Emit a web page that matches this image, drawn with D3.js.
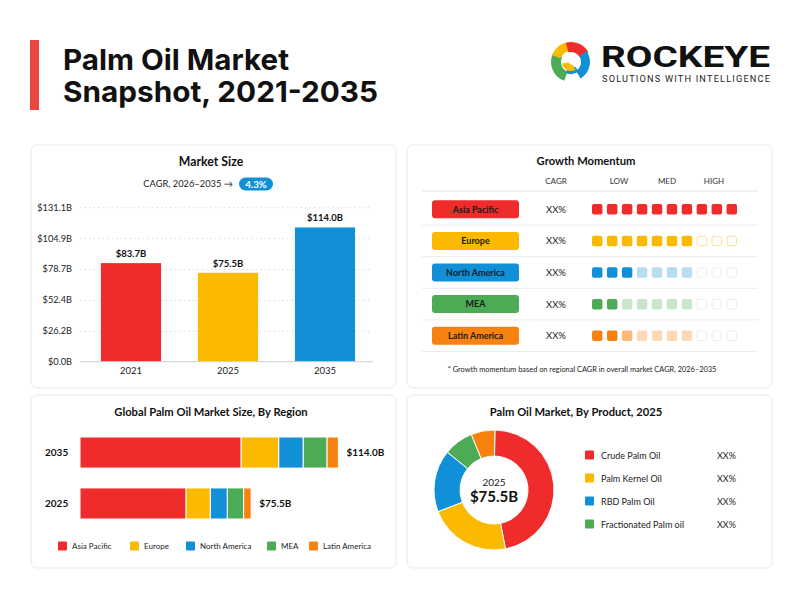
<!DOCTYPE html>
<html>
<head>
<meta charset="utf-8">
<script src="https://cdn.jsdelivr.net/npm/d3@7"></script>
<style>
  body { margin: 0; background: #fff; }
  svg { display: block; font-family: Lato, "Open Sans", sans-serif; }
</style>
</head>
<body>
<div id="app"></div>
<script>
// market size
const years = ['2021', '2025', '2035'];
const marketSize = [83.7, 75.5, 114.0];
const sizeTicks = [0, 26.2, 52.4, 78.7, 104.9, 131.1];
const cagrText = '4.3%';

// growth momentum
const regions = ['Asia Pacific', 'Europe', 'North America', 'MEA', 'Latin America'];
const regionCagr = ['XX%', 'XX%', 'XX%', 'XX%', 'XX%'];
const momentumSolid = [10, 7, 3, 2, 2];
const momentumMid = [0, 0, 0, 0, 1];
const momentumSoft = [0, 0, 4, 5, 4];
const momentumHeads = ['CAGR', 'LOW', 'MED', 'HIGH'];

// by region
const regionYears = ['2035', '2025'];
const regionTotals = [114.0, 75.5];
const region2035 = [71.1, 16.6, 10.8, 10.5, 5.0];
const region2025 = [46.8, 10.7, 7.5, 7.2, 3.3];

// by product
const products = ['Crude Palm Oil', 'Palm Kernel Oil', 'RBD Palm Oil', 'Fractionated Palm oil', 'Others'];
const productShares = [46.7, 22.2, 16.7, 8.0, 6.4];
const productLabels = ['XX%', 'XX%', 'XX%', 'XX%'];

const colors = ['#ef2b2b', '#fbb900', '#1190d8', '#4cab54', '#f8820f'];

const W = 802, H = 610;
const svg = d3.select('#app').append('svg')
  .attr('width', W)
  .attr('height', H);

// header
svg.append('rect').attr('x', 30).attr('y', 40).attr('width', 9).attr('height', 70).attr('fill', '#e8473f');
const title = svg.append('text')
  .attr('font-family', 'Inter, Roboto, sans-serif')
  .attr('font-weight', 700)
  .attr('font-size', 29)
  .attr('fill', '#111')
  .attr('lengthAdjust', 'spacingAndGlyphs');
title.append('tspan').attr('x', 63).attr('y', 69.5).attr('textLength', 226).attr('lengthAdjust', 'spacingAndGlyphs').text('Palm Oil Market');
title.append('tspan').attr('x', 63).attr('y', 101.7).attr('textLength', 315).attr('lengthAdjust', 'spacingAndGlyphs').text('Snapshot, 2021-2035');

// logo
const logo = svg.append('g').attr('transform', 'translate(571,62)');
const swirl = [
  { c: '#4cab54', a0: 200, a1: 300, r0: 10, r1: 20 },
  { c: '#fbb900', a0: 290, a1: 350, r0: 11, r1: 20 },
  { c: '#ef2b2b', a0: 345, a1: 60, r0: 10, r1: 20 },
  { c: '#1190d8', a0: 55, a1: 150, r0: 10, r1: 19 },
  { c: '#1190d8', a0: 140, a1: 205, r0: 6, r1: 12 },
  { c: '#fbb900', a0: 150, a1: 260, r0: 0, r1: 9 }
];
swirl.forEach(s => {
  const a1 = s.a1 < s.a0 ? s.a1 + 360 : s.a1;
  logo.append('path')
    .attr('d', d3.arc()({ innerRadius: s.r0, outerRadius: s.r1, startAngle: s.a0 * Math.PI / 180, endAngle: a1 * Math.PI / 180 }))
    .attr('fill', s.c);
});
logo.append('circle').attr('r', 5).attr('cx', 2).attr('cy', -2).attr('fill', '#fff');
svg.append('text')
  .attr('x', 601).attr('y', 67.3)
  .attr('font-family', 'Roboto, sans-serif')
  .attr('font-weight', 700)
  .attr('font-size', 30)
  .attr('textLength', 169)
  .attr('lengthAdjust', 'spacingAndGlyphs')
  .attr('fill', '#111')
  .text('ROCKEYE');
svg.append('text')
  .attr('x', 602).attr('y', 82.3)
  .attr('font-family', 'Roboto, sans-serif')
  .attr('font-size', 9.2)
  .attr('textLength', 168)
  .attr('fill', '#222')
  .text('SOLUTIONS WITH INTELLIGENCE');

// panels
const panels = [[31, 145, 365, 243], [407, 145, 365, 243], [31, 395, 365, 173], [407, 395, 365, 173]];
svg.selectAll('rect.panel')
  .data(panels)
  .enter()
  .append('rect')
  .attr('class', 'panel')
  .attr('x', d => d[0]).attr('y', d => d[1])
  .attr('width', d => d[2]).attr('height', d => d[3])
  .attr('rx', 6)
  .attr('fill', '#fff')
  .attr('stroke', '#e9e9e9');

function panelTitle(x, y, txt, size) {
  svg.append('text')
    .attr('x', x).attr('y', y)
    .attr('text-anchor', 'middle')
    .attr('font-weight', 700)
    .attr('font-size', size)
    .attr('fill', '#111')
    .text(txt);
}

// ---- market size ----
panelTitle(211, 166, 'Market Size', 12.3);
svg.append('text')
  .attr('x', 233).attr('y', 187)
  .attr('text-anchor', 'end')
  .attr('font-size', 9.3)
  .attr('fill', '#222')
  .text('CAGR, 2026–2035 →');
svg.append('rect').attr('x', 239).attr('y', 177.5).attr('width', 34).attr('height', 13).attr('rx', 6.5).attr('fill', '#1190d8');
svg.append('text')
  .attr('x', 256).attr('y', 187.5)
  .attr('text-anchor', 'middle')
  .attr('font-size', 9.8)
  .attr('font-weight', 700)
  .attr('fill', '#fff')
  .text(cagrText);

const xs = d3.scaleBand().domain(years).range([82.5, 373.5]).paddingInner(0.38).paddingOuter(0.19);
const ys = d3.scaleLinear().domain([0, 131.1]).range([361.7, 207.3]);

const grid = svg.append('g')
  .attr('transform', 'translate(80,0)')
  .call(d3.axisLeft(ys).tickValues(sizeTicks.slice(1)).tickSize(-292).tickFormat(''));
grid.select('.domain').remove();
grid.selectAll('line').attr('stroke', '#d9d9d9').attr('stroke-dasharray', '1.5,3');

const yAxis = svg.append('g')
  .attr('transform', 'translate(72,0)')
  .call(d3.axisLeft(ys).tickValues(sizeTicks).tickSize(0).tickPadding(0).tickFormat(d => '$' + d.toFixed(1) + 'B'));
yAxis.select('.domain').remove();
yAxis.selectAll('text').attr('font-family', 'Lato, sans-serif').attr('font-size', 9.2).attr('fill', '#222');

svg.append('g')
  .selectAll('rect')
  .data(marketSize)
  .enter()
  .append('rect')
  .attr('x', (d, i) => xs(years[i]))
  .attr('y', d => ys(d))
  .attr('width', xs.bandwidth())
  .attr('height', d => ys(0) - ys(d))
  .attr('fill', (d, i) => colors[i]);

const xAxis = svg.append('g')
  .attr('transform', `translate(0,${ys(0)})`)
  .call(d3.axisBottom(xs).tickSize(0).tickPadding(6));
xAxis.select('.domain').attr('stroke', '#d0d0d0').attr('d', 'M80,0H373');
xAxis.selectAll('text').attr('font-family', 'Lato, sans-serif').attr('font-size', 9.5).attr('fill', '#222');

svg.append('g')
  .selectAll('text')
  .data(marketSize)
  .enter()
  .append('text')
  .attr('x', (d, i) => xs(years[i]) + xs.bandwidth() / 2)
  .attr('y', d => ys(d) - 6)
  .attr('text-anchor', 'middle')
  .attr('font-size', 9.5)
  .attr('font-weight', 700)
  .attr('fill', '#111')
  .text(d => '$' + d.toFixed(1) + 'B');

// ---- growth momentum ----
panelTitle(586, 165, 'Growth Momentum', 11.2);
const headX = [556, 619, 667, 714];
svg.append('g')
  .selectAll('text')
  .data(momentumHeads)
  .enter()
  .append('text')
  .attr('x', (d, i) => headX[i])
  .attr('y', 184)
  .attr('text-anchor', 'middle')
  .attr('font-size', 8)
  .attr('fill', '#333')
  .text(d => d);
svg.append('line').attr('x1', 422).attr('x2', 758).attr('y1', 191).attr('y2', 191).attr('stroke', '#e6e6e6');

const ry = d3.scaleBand().domain(regions).range([193.5, 351.5]);
const sq = d3.scaleBand().domain(d3.range(10)).range([592, 737]).paddingInner(0.3);

const rows = svg.append('g')
  .selectAll('g')
  .data(regions)
  .enter()
  .append('g')
  .attr('transform', d => `translate(0,${ry(d)})`);

rows.append('line')
  .attr('x1', 422).attr('x2', 758)
  .attr('y1', ry.bandwidth()).attr('y2', ry.bandwidth())
  .attr('stroke', '#ececec');
rows.append('rect')
  .attr('x', 432).attr('y', ry.bandwidth() / 2 - 9)
  .attr('width', 87).attr('height', 18).attr('rx', 3)
  .attr('fill', (d, i) => colors[i]);
rows.append('text')
  .attr('x', 475.5).attr('y', ry.bandwidth() / 2 + 3.3)
  .attr('text-anchor', 'middle')
  .attr('font-size', 9)
  .attr('font-weight', 700)
  .attr('fill', '#1a1a1a')
  .text(d => d);
rows.append('text')
  .attr('x', 556).attr('y', ry.bandwidth() / 2 + 3.5)
  .attr('text-anchor', 'middle')
  .attr('font-size', 9.5)
  .attr('fill', '#222')
  .text((d, i) => regionCagr[i]);

rows.each(function (d, i) {
  const g = d3.select(this);
  const levels = d3.range(10).map(k => {
    if (k < momentumSolid[i]) return 1;
    if (k < momentumSolid[i] + momentumMid[i]) return 0.55;
    if (k < momentumSolid[i] + momentumMid[i] + momentumSoft[i]) return 0.3;
    return 0;
  });
  g.selectAll('rect.sq')
    .data(levels)
    .enter()
    .append('rect')
    .attr('class', 'sq')
    .attr('x', (v, k) => sq(k) + (v === 0 ? 0.5 : 0))
    .attr('y', v => ry.bandwidth() / 2 - 5.2 + (v === 0 ? 0.5 : 0))
    .attr('width', v => v === 0 ? sq.bandwidth() - 1 : sq.bandwidth())
    .attr('height', v => v === 0 ? 9.5 : 10.5)
    .attr('rx', 2)
    .attr('fill', v => v === 0 ? '#fff' : colors[i])
    .attr('fill-opacity', v => v === 0 ? 1 : v)
    .attr('stroke', v => v === 0 ? (i === 1 ? '#f9df95' : '#eeeeee') : 'none')
    .attr('stroke-width', 1);
});

svg.append('text')
  .attr('x', 582).attr('y', 371.5)
  .attr('text-anchor', 'middle')
  .attr('font-size', 7.4)
  .attr('fill', '#222')
  .text('* Growth momentum based on regional CAGR in overall market CAGR, 2026–2035');

// ---- by region ----
panelTitle(211, 415.5, 'Global Palm Oil Market Size, By Region', 11.2);
const by = d3.scaleBand().domain(regionYears).range([437, 519]).paddingInner(0.39);
const bx = d3.scaleLinear().domain([0, 120]).range([80, 352]);
const regionSeries = [region2035, region2025];

regionYears.forEach((yr, j) => {
  const vals = regionSeries[j];
  const starts = d3.cumsum([0].concat(vals));
  svg.append('g')
    .selectAll('rect')
    .data(vals)
    .enter()
    .append('rect')
    .attr('x', (d, i) => bx(starts[i]))
    .attr('y', by(yr))
    .attr('width', d => bx(d) - bx(0))
    .attr('height', by.bandwidth())
    .attr('fill', (d, i) => colors[i])
    .attr('stroke', '#fff')
    .attr('stroke-width', 1);
  svg.append('text')
    .attr('x', 45).attr('y', by(yr) + by.bandwidth() / 2 + 3.5)
    .attr('font-size', 10)
    .attr('font-weight', 700)
    .attr('fill', '#111')
    .text(yr);
  svg.append('text')
    .attr('x', bx(regionTotals[j]) + 8).attr('y', by(yr) + by.bandwidth() / 2 + 3.5)
    .attr('font-size', 10)
    .attr('font-weight', 700)
    .attr('fill', '#111')
    .text('$' + regionTotals[j].toFixed(1) + 'B');
});

const legX = [58, 130, 186, 267, 309];
const leg = svg.append('g')
  .selectAll('g')
  .data(regions)
  .enter()
  .append('g')
  .attr('transform', (d, i) => `translate(${legX[i]},546)`);
leg.append('rect').attr('x', 0).attr('y', -4.5).attr('width', 9).attr('height', 9).attr('rx', 1).attr('fill', (d, i) => colors[i]);
leg.append('text').attr('x', 14).attr('y', 3).attr('font-size', 8).attr('fill', '#222').text(d => d);

// ---- by product ----
panelTitle(576, 415.5, 'Palm Oil Market, By Product, 2025', 11.2);
const pie = d3.pie().sort(null).value(d => d).startAngle(0.015).endAngle(2 * Math.PI + 0.015);
const arc = d3.arc().innerRadius(34).outerRadius(60);
const donut = svg.append('g').attr('transform', 'translate(494,490)');
donut.selectAll('path')
  .data(pie(productShares))
  .enter()
  .append('path')
  .attr('d', arc)
  .attr('fill', (d, i) => colors[i])
  .attr('stroke', '#fff')
  .attr('stroke-width', 1);
donut.append('text').attr('y', -4).attr('text-anchor', 'middle').attr('font-size', 10).attr('fill', '#222').text('2025');
donut.append('text').attr('y', 12).attr('text-anchor', 'middle').attr('font-size', 15).attr('font-weight', 700).attr('fill', '#111').text('$75.5B');

const py = d3.scalePoint().domain(products.slice(0, 4)).range([455, 524]);
const pl = svg.append('g')
  .selectAll('g')
  .data(products.slice(0, 4))
  .enter()
  .append('g')
  .attr('transform', d => `translate(0,${py(d)})`);
pl.append('rect').attr('x', 585).attr('y', -4.5).attr('width', 9).attr('height', 9).attr('rx', 1).attr('fill', (d, i) => colors[i]);
pl.append('text').attr('x', 601).attr('y', 3.5).attr('font-size', 9).attr('fill', '#222').text(d => d);
pl.append('text').attr('x', 717).attr('y', 3.5).attr('font-size', 9).attr('fill', '#222').text((d, i) => productLabels[i]);
</script>
</body>
</html>
